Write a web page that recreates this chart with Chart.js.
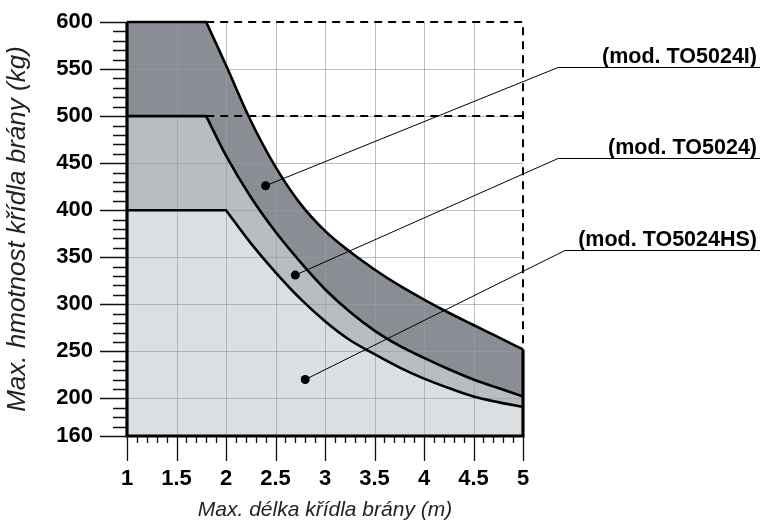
<!DOCTYPE html>
<html>
<head>
<meta charset="utf-8">
<script src="https://cdn.jsdelivr.net/npm/chart.js@4.4.1/dist/chart.umd.min.js"></script>
<style>
  html, body { margin: 0; padding: 0; background: #fff; }
</style>
</head>
<body>
<canvas id="graf" width="760" height="531"></canvas>
<script>
// krivky - max. hmotnost kridla podle delky
const topX = [1, 1.8, 1.8, 2, 2.25, 2.5, 2.75, 3, 3.25, 3.5, 3.75, 4, 4.25, 4.5, 4.75, 5]
const topY = [600, 600, 600, 554, 495, 446, 407, 378, 356, 337, 320, 305, 291, 278, 265, 252]
const midX = [1, 1.8, 1.8, 2, 2.25, 2.5, 2.75, 3, 3.25, 3.5, 3.75, 4, 4.25, 4.5, 4.75, 5]
const midY = [500, 500, 500, 458, 414, 377, 345, 316, 292, 272, 256, 243, 231, 220, 211, 202]
const hsX = [1, 2, 2, 2.25, 2.5, 2.75, 3, 3.25, 3.5, 3.75, 4, 4.25, 4.5, 4.75, 5]
const hsY = [400, 400, 400, 365, 334, 306, 282, 262, 247, 233, 221, 211, 202, 196, 191]

const modely = ['(mod. TO5024I)', '(mod. TO5024)', '(mod. TO5024HS)']
const bodX = [2.4, 2.7, 2.8]
const bodY = [426, 331, 220]

const xTicks = [1, 1.5, 2, 2.5, 3, 3.5, 4, 4.5, 5]
const yTicks = [160, 200, 250, 300, 350, 400, 450, 500, 550, 600]
const gridX = [1.5, 2, 2.5, 3, 3.5, 4, 4.5]
const gridY = [200, 250, 300, 350, 400, 450, 500, 550]

function body(xs, ys) {
    return xs.map((v, i) => ({ x: v, y: ys[i] }))
}

const FONT = "'Liberation Sans', Arial, sans-serif"

// mrizka mezi vyplni a carami, ticky, popisky modelu
const kresleni = {
    id: 'kresleni',
    beforeDatasetsDraw(chart) {
        const { ctx, chartArea: a, scales: { x, y } } = chart
        ctx.save()
        ctx.strokeStyle = 'rgba(150,155,165,0.65)'
        ctx.lineWidth = 1
        ctx.beginPath()
        gridX.forEach(v => {
            let px = Math.round(x.getPixelForValue(v)) + 0.5
            ctx.moveTo(px, a.top); ctx.lineTo(px, a.bottom)
        })
        gridY.forEach(v => {
            let py = Math.round(y.getPixelForValue(v)) + 0.5
            ctx.moveTo(a.left, py); ctx.lineTo(a.right, py)
        })
        ctx.stroke()
        ctx.restore()
    },
    afterDatasetsDraw(chart) {
        const { ctx, chartArea: a, scales: { x, y } } = chart
        ctx.save()
        // ticky osy x
        ctx.strokeStyle = '#111'
        ctx.lineWidth = 1.3
        ctx.beginPath()
        for (let i = 10; i <= 50; i++) {
            let px = Math.round(x.getPixelForValue(i / 10)) + 0.5
            let len = i % 5 === 0 ? 25 : 7
            ctx.moveTo(px, a.bottom); ctx.lineTo(px, a.bottom + len)
        }
        // ticky osy y
        for (let v = 160; v <= 600; v += 10) {
            let py = Math.round(y.getPixelForValue(v)) + 0.5
            let len = (v % 50 === 0 || v === 160) ? 27 : 14
            ctx.moveTo(a.left - len, py); ctx.lineTo(a.left, py)
        }
        ctx.stroke()

        // odkazove cary a popisky
        const ohyb = [[558, 67], [558, 158], [565, 250]]
        ctx.lineWidth = 1
        ctx.strokeStyle = '#000'
        ctx.fillStyle = '#000'
        ctx.font = 'bold 21.5px ' + FONT
        ctx.textAlign = 'right'
        ctx.textBaseline = 'alphabetic'
        modely.forEach((txt, i) => {
            let px = x.getPixelForValue(bodX[i])
            let py = y.getPixelForValue(bodY[i])
            ctx.beginPath()
            ctx.moveTo(px, py)
            ctx.lineTo(ohyb[i][0], ohyb[i][1] + 0.5)
            ctx.lineTo(760, ohyb[i][1] + 0.5)
            ctx.stroke()
            ctx.fillText(txt, 757, ohyb[i][1] - 4)
        })
        ctx.restore()
    }
}

var ctx = document.getElementById('graf').getContext('2d')
var graf = new Chart(ctx, {
    type: 'line',
    data: {
        datasets: [{
            label: 'TO5024I',
            data: body(topX, topY),
            borderColor: '#000',
            borderWidth: 2.6,
            backgroundColor: '#8a8e94',
            fill: '+1',
            tension: 0.35,
            pointRadius: 0,
            clip: false
        }, {
            label: 'TO5024',
            data: body(midX, midY),
            borderColor: '#000',
            borderWidth: 2.6,
            backgroundColor: '#b9bcc1',
            fill: '+1',
            tension: 0.35,
            pointRadius: 0,
            clip: false
        }, {
            label: 'TO5024HS',
            data: body(hsX, hsY),
            borderColor: '#000',
            borderWidth: 2.6,
            backgroundColor: '#dcdfe2',
            fill: 'start',
            tension: 0.35,
            pointRadius: 0,
            clip: false
        }, {
            label: 'limit 600',
            data: [{ x: 1.8, y: 600 }, { x: 5, y: 600 }, { x: 5, y: 252 }],
            borderColor: '#000',
            borderWidth: 2,
            borderDash: [8, 6],
            fill: false,
            tension: 0,
            pointRadius: 0,
            clip: false
        }, {
            label: 'limit 500',
            data: [{ x: 1.8, y: 500 }, { x: 5, y: 500 }],
            borderColor: '#000',
            borderWidth: 2,
            borderDash: [8, 6],
            fill: false,
            tension: 0,
            pointRadius: 0,
            clip: false
        }, {
            label: 'ram',
            data: [{ x: 5, y: 252 }, { x: 5, y: 160 }, { x: 1, y: 160 }, { x: 1, y: 600 }],
            borderColor: '#000',
            borderWidth: 3.2,
            fill: false,
            tension: 0,
            pointRadius: 0,
            clip: false
        }, {
            label: 'body',
            data: body(bodX, bodY),
            showLine: false,
            pointRadius: 4.5,
            pointBackgroundColor: '#000',
            pointBorderWidth: 0,
            clip: false
        }]
    },
    options: {
        responsive: false,
        animation: false,
        devicePixelRatio: 1,
        layout: { autoPadding: false, padding: { left: 0, top: 22, right: 237, bottom: 0 } },
        plugins: {
            legend: { display: false },
            tooltip: { enabled: false },
            filler: { drawTime: 'beforeDatasetsDraw' }
        },
        scales: {
            x: {
                type: 'linear',
                min: 1,
                max: 5,
                afterBuildTicks: s => { s.ticks = xTicks.map(v => ({ value: v })) },
                afterFit: s => { s.height = 95; s.paddingLeft = 0; s.paddingRight = 0 },
                grid: { display: false, drawTicks: false },
                border: { display: false },
                ticks: {
                    color: '#000',
                    padding: 30,
                    maxRotation: 0,
                    callback: v => String(v),
                    font: { family: FONT, size: 22, weight: 'bold' }
                },
                title: {
                    display: true,
                    text: 'Max. délka křídla brány (m)',
                    color: '#222',
                    font: { family: FONT, size: 21, style: 'italic' },
                    padding: { top: 0, bottom: 8 }
                }
            },
            y: {
                type: 'linear',
                min: 160,
                max: 600,
                afterBuildTicks: s => { s.ticks = yTicks.map(v => ({ value: v })) },
                afterFit: s => { s.width = 127; s.paddingTop = 0; s.paddingBottom = 0 },
                grid: { display: false, drawTicks: false },
                border: { display: false },
                ticks: {
                    color: '#000',
                    padding: 34,
                    callback: v => String(v),
                    font: { family: FONT, size: 22, weight: 'bold' }
                },
                title: {
                    display: true,
                    text: 'Max. hmotnost křídla brány (kg)',
                    color: '#222',
                    font: { family: FONT, size: 26, style: 'italic' },
                    padding: { top: 2, bottom: 0 }
                }
            }
        }
    },
    plugins: [kresleni]
})
</script>
</body>
</html>
